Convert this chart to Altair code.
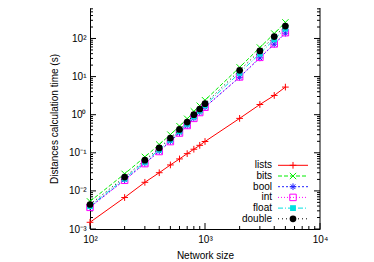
import json
import altair as alt
import pandas as pd

# ---- data ----
sizes = [100, 200, 300, 400, 500, 600, 700, 800, 900, 1000, 2000, 3000, 4000, 5000]
lists_t = [0.0015, 0.0067, 0.0168, 0.030, 0.048, 0.069, 0.095, 0.124, 0.157, 0.198, 0.80, 1.85, 3.2, 5.3]
bits_t = [0.0053, 0.028, 0.078, 0.165, 0.30, 0.50, 0.78, 1.22, 1.72, 2.4, 17.5, 58, 135, 265]
bool_t = [0.0038, 0.0195, 0.053, 0.110, 0.20, 0.335, 0.52, 0.81, 1.15, 1.58, 9.6, 31, 71, 138]
int_t = [0.0037, 0.019, 0.052, 0.108, 0.197, 0.33, 0.52, 0.80, 1.14, 1.57, 9.8, 32, 72, 142]
float_t = [0.0040, 0.021, 0.058, 0.121, 0.22, 0.37, 0.58, 0.90, 1.28, 1.77, 12.5, 40, 95, 182]
double_t = [0.0044, 0.023, 0.064, 0.134, 0.244, 0.41, 0.64, 1.0, 1.41, 1.95, 14.6, 47, 112, 212]

series_names = ["lists", "bits", "bool", "int", "float", "double"]
series_values = [lists_t, bits_t, bool_t, int_t, float_t, double_t]

x_ticks_major = [100, 1000, 10000]
x_tick_labels = ["10²", "10³", "10⁴"]
y_ticks_major = [0.001, 0.01, 0.1, 1, 10, 100, 1000]
y_tick_labels = ["10⁻³", "10⁻²", "10⁻¹", "10⁰", "10¹", "10²", "10³"]

# ---- styles ----
colors = ["#ff0000", "#00ee00", "#2020ff", "#ff00ff", "#00e0e0", "#000000"]
dashes = [None, [4, 2], [2, 2], [1, 2], [5, 2, 1, 2], [1, 3]]
P_PLUS = "M-1,0L1,0M0,-1L0,1"
P_X = "M-1,-1L1,1M-1,1L1,-1"
P_STAR = "M-1,0L1,0M0,-1L0,1M-0.7,-0.7L0.7,0.7M-0.7,0.7L0.7,-0.7"
shapes = [P_PLUS, P_X, P_STAR, "square", "square", "circle"]
filled = [False, False, False, False, True, True]
sizes_pt = [45, 40, 45, 42, 34, 45]

W = 230
H = 221
Y_MAX = 631
FONT = "Liberation Sans"

xscale = alt.Scale(type="log", domain=[100, 10000])
yscale = alt.Scale(type="log", domain=[0.001, Y_MAX])

x_axis = alt.Axis(
    values=x_ticks_major,
    labelExpr=json.dumps(x_tick_labels, ensure_ascii=False) + "[round(log(datum.value)/LN10) - 2]",
    ticks=False, grid=False, domainColor="black", domainWidth=1,
    labelFont=FONT, labelFontSize=10, labelColor="black", labelPadding=5,
    labelFlush=False, labelOverlap=False,
    title="Network size", titleFont=FONT, titleFontSize=10, titleFontWeight="normal",
    titleColor="black", titlePadding=6,
)
y_axis = alt.Axis(
    values=y_ticks_major,
    labelExpr=json.dumps(y_tick_labels, ensure_ascii=False) + "[round(log(datum.value)/LN10) + 3]",
    ticks=False, grid=False, domainColor="black", domainWidth=1,
    labelFont=FONT, labelFontSize=10, labelColor="black", labelPadding=4,
    labelFlush=False, labelOverlap=False,
    title="Distances calculation time (s)", titleFont=FONT, titleFontSize=10,
    titleFontWeight="normal", titleColor="black", titlePadding=9,
)

X = alt.X("size:Q", scale=xscale, axis=x_axis)
Y = alt.Y("t:Q", scale=yscale, axis=y_axis)

layers = []

# tick marks (inward)
x_minor = [m * 10 ** k for k in (2, 3) for m in range(2, 10)]
y_minor = [m * 10.0 ** k for k in range(-3, 3) for m in range(2, 10)]
y_minor = [v for v in y_minor if v <= Y_MAX]
y_major_in = [v for v in y_ticks_major if v <= Y_MAX]


def xticks(vals, length):
    return alt.Chart(pd.DataFrame({"size": vals})).mark_rule(color="black", strokeWidth=1).encode(
        x=X, y=alt.value(H), y2=alt.value(H - length))


def yticks(vals, length, side):
    x0 = 0 if side == "l" else W
    x1 = length if side == "l" else W - length
    return alt.Chart(pd.DataFrame({"t": vals})).mark_rule(color="black", strokeWidth=1).encode(
        y=Y, x=alt.value(x0), x2=alt.value(x1))


layers += [xticks(x_ticks_major, 6), xticks(x_minor, 3),
           yticks(y_major_in, 6, "l"), yticks(y_minor, 3, "l"),
           yticks(y_major_in, 6, "r"), yticks(y_minor, 3, "r")]

# right border
layers.append(alt.Chart(pd.DataFrame({"a": [0]})).mark_rule(color="black", strokeWidth=1).encode(
    x=alt.value(W), y=alt.value(0), y2=alt.value(H)))

# series
for i, name in enumerate(series_names):
    df = pd.DataFrame({"size": sizes, "t": series_values[i]})
    lkw = dict(color=colors[i], strokeWidth=1)
    if dashes[i]:
        lkw["strokeDash"] = dashes[i]
    line = alt.Chart(df).mark_line(**lkw).encode(x=X, y=Y)
    pts = alt.Chart(df).mark_point(shape=shapes[i], filled=filled[i], color=colors[i],
                                   size=sizes_pt[i], opacity=1, strokeWidth=1).encode(x=X, y=Y)
    layers += [line, pts]

# legend (gnuplot style: label left, sample right)
LEG_Y0 = 157.3
LEG_DY = 10.7
for i, name in enumerate(series_names):
    ly = LEG_Y0 + i * LEG_DY
    ldf = pd.DataFrame({"name": [name]})
    txt = alt.Chart(ldf).mark_text(align="right", baseline="middle", font=FONT, fontSize=10,
                                   color="black").encode(
        text="name:N", x=alt.value(182), y=alt.value(ly))
    lkw = dict(color=colors[i], strokeWidth=1)
    if dashes[i]:
        lkw["strokeDash"] = dashes[i]
    sample = alt.Chart(ldf).mark_rule(**lkw).encode(
        x=alt.value(188), x2=alt.value(218), y=alt.value(ly))
    mk = alt.Chart(ldf).mark_point(shape=shapes[i], filled=filled[i], color=colors[i],
                                   size=sizes_pt[i], opacity=1, strokeWidth=1).encode(
        x=alt.value(203), y=alt.value(ly))
    layers += [txt, sample, mk]

chart = alt.layer(*layers).properties(
    width=W, height=H,
    padding={"left": 82, "top": 0, "right": 46, "bottom": 33},
    autosize=alt.AutoSizeParams(type="none"),
).configure_view(stroke=None)

chart.save("out.html", embed_options={"renderer": "svg", "actions": False})
